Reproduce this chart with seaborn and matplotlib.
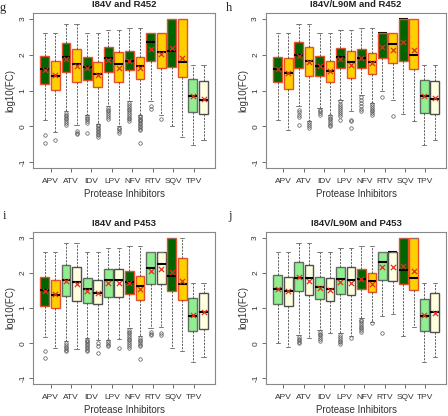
import numpy as np
import pandas as pd
import matplotlib
matplotlib.use("Agg")
import matplotlib.pyplot as plt
import seaborn as sns

drugs = ["APV", "ATV", "IDV", "LPV", "NFV", "RTV", "SQV", "TPV"]
titles = ["I84V and R452", "I84V/L90M and R452", "I84V and P453", "I84V/L90M and P453"]
letters = ["g", "h", "i", "j"]

# 16 boxes per panel: for each drug, first box then second box
# colour code: D dark green, G gold, L light green, C cream
g_kind = ["D", "G"] * 7 + ["L", "C"]
g_q1 = [1.18, 1.02, 1.53, 1.23, 1.30, 1.09, 1.53, 1.25, 1.57, 1.32, 1.83, 1.63, 1.66, 1.37, 0.41, 0.34]
g_med = [1.60, 1.41, 1.93, 1.74, 1.66, 1.47, 1.91, 1.74, 1.83, 1.68, 2.37, 2.09, 2.12, 1.81, 0.86, 0.74]
g_q3 = [1.97, 1.83, 2.33, 2.16, 1.95, 1.80, 2.21, 2.09, 2.12, 1.95, 2.60, 2.60, 3.00, 3.00, 1.33, 1.27]
g_lo = [0.17, -0.14, 0.42, 0.05, 0.33, 0.08, 0.56, 0.02, 0.70, 0.33, 0.70, 0.33, 0.02, -0.28, -0.51, -0.37]
g_hi = [2.60, 2.60, 2.85, 2.85, 2.60, 2.60, 2.69, 2.69, 2.76, 2.76, 2.60, 2.60, 3.00, 3.00, 1.71, 1.71]
g_mean = [1.58, 1.43, 1.88, 1.70, 1.62, 1.43, 1.85, 1.63, 1.83, 1.62, 2.16, 2.03, 2.20, 1.90, 0.86, 0.78]
g_fliers = [[-0.23, -0.45], [-0.39],
            [0.38, 0.33, 0.28, 0.24, 0.20, 0.15, 0.10, 0.05], [-0.12, -0.17, -0.22],
            [0.28, 0.24, 0.20, 0.15, 0.10, -0.19], [0.04, 0.0, -0.04, -0.08, -0.12, -0.16, -0.20, -0.24, -0.28],
            [0.52, 0.47, 0.42, 0.37, 0.32, 0.27, 0.22], [-0.03, -0.08, -0.13, -0.17],
            [0.66, 0.60, 0.55, 0.50, 0.45, 0.40, 0.35, 0.30, 0.25, 0.20, 0.15],
            [0.30, 0.26, 0.22, 0.18, 0.14, 0.10, 0.06, 0.02, -0.02, -0.06, -0.10, -0.47],
            [0.56, 0.50], [0.21], [], [], [], []]

h_kind = ["D", "G"] * 7 + ["L", "C"]
h_q1 = [1.23, 1.06, 1.63, 1.41, 1.41, 1.23, 1.62, 1.34, 1.64, 1.47, 1.92, 1.77, 1.83, 1.61, 0.39, 0.34]
h_med = [1.60, 1.49, 1.99, 1.83, 1.70, 1.55, 1.93, 1.80, 1.91, 1.80, 2.60, 2.29, 3.00, 2.00, 0.84, 0.76]
h_q3 = [1.95, 1.90, 2.35, 2.23, 1.98, 1.83, 2.20, 2.12, 2.16, 2.05, 2.60, 2.60, 3.00, 3.00, 1.31, 1.28]
h_lo = [0.17, -0.09, 0.56, 0.14, 0.51, 0.33, 0.75, 0.42, 0.88, 0.65, 1.00, 0.75, 0.34, 0.14, -0.51, -0.37]
h_hi = [2.60, 2.60, 2.85, 2.85, 2.60, 2.60, 2.69, 2.69, 2.76, 2.76, 2.60, 2.60, 3.00, 3.00, 1.71, 1.71]
h_mean = [1.60, 1.49, 1.97, 1.81, 1.70, 1.55, 1.87, 1.72, 1.90, 1.77, 2.22, 2.14, 2.37, 2.13, 0.86, 0.80]
h_fliers = [[], [],
            [0.47, 0.40, 0.33, 0.27, 0.05], [0.12, 0.07, 0.02, -0.03],
            [0.47, 0.42, 0.37, 0.31], [0.30, 0.25, 0.20, 0.15, 0.10, 0.05, 0.02],
            [0.70, 0.64, 0.58, 0.52, 0.46, 0.40, 0.34, 0.28, 0.19], [0.19, 0.14, -0.03],
            [0.82, 0.74, 0.66, 0.58, 0.50, 0.42], [0.62, 0.57, 0.52, 0.47, 0.42, 0.37, 0.33],
            [0.82], [0.28], [], [], [], []]

i_kind = ["D", "G", "L", "C", "L", "C", "L", "C", "D", "G", "L", "C", "D", "G", "L", "C"]
i_q1 = [1.07, 1.00, 1.33, 1.21, 1.14, 1.10, 1.32, 1.32, 1.40, 1.24, 1.69, 1.69, 1.49, 1.24, 0.35, 0.40]
i_med = [1.51, 1.38, 1.81, 1.73, 1.53, 1.44, 1.80, 1.80, 1.75, 1.63, 2.14, 2.26, 1.91, 1.67, 0.76, 0.90]
i_q3 = [1.88, 1.80, 2.23, 2.17, 1.84, 1.80, 2.12, 2.11, 2.05, 1.91, 2.60, 2.60, 3.00, 2.42, 1.28, 1.44]
i_lo = [0.17, -0.14, 0.05, -0.17, 0.14, 0.09, 0.09, 0.11, 0.42, 0.19, 0.42, 0.45, -0.14, -0.23, -0.54, -0.39]
i_hi = [2.60, 2.60, 2.86, 2.86, 2.60, 2.60, 2.70, 2.70, 2.77, 2.77, 2.60, 2.60, 3.00, 3.00, 1.72, 1.72]
i_mean = [1.49, 1.40, 1.78, 1.68, 1.48, 1.43, 1.70, 1.70, 1.72, 1.55, 2.05, 2.10, 2.02, 1.77, 0.79, 0.88]
i_fliers = [[-0.21, -0.42], [],
            [0.0, -0.05, -0.10, -0.15, -0.20, -0.23], [],
            [0.10, 0.06, 0.02, -0.02, -0.06, -0.10, -0.14, -0.18, -0.22], [0.0, -0.09, -0.28],
            [0.05, 0.0, -0.05, -0.09], [-0.14],
            [0.38, 0.33, 0.28, 0.23, 0.18, 0.13, 0.08, 0.03, -0.02, -0.08, -0.14],
            [0.15, 0.10, 0.05, 0.0, -0.05, -0.09, -0.45],
            [0.32, 0.27, 0.22], [0.30, 0.24], [], [], [], []]

j_kind = ["L", "C"] * 4 + ["D", "G", "L", "C", "D", "G", "L", "C"]
j_q1 = [1.12, 1.05, 1.49, 1.36, 1.26, 1.21, 1.41, 1.37, 1.53, 1.46, 1.81, 1.77, 1.67, 1.52, 0.35, 0.32]
j_med = [1.53, 1.47, 1.86, 1.84, 1.60, 1.55, 1.83, 1.81, 1.83, 1.76, 2.30, 2.60, 2.09, 1.86, 0.76, 0.88]
j_q3 = [1.93, 1.87, 2.30, 2.22, 1.88, 1.84, 2.16, 2.17, 2.11, 2.00, 2.60, 2.60, 3.00, 3.00, 1.27, 1.44]
j_lo = [0.0, -0.10, 0.23, 0.14, 0.37, 0.30, 0.28, 0.19, 0.72, 0.60, 0.77, 0.83, 0.19, 0.47, -0.54, -0.39]
j_hi = [2.60, 2.60, 2.86, 2.86, 2.60, 2.60, 2.70, 2.70, 2.77, 2.77, 2.60, 2.60, 3.00, 3.00, 1.72, 1.72]
j_mean = [1.54, 1.47, 1.87, 1.78, 1.57, 1.52, 1.74, 1.71, 1.82, 1.69, 2.16, 2.18, 2.20, 2.04, 0.80, 0.87]
j_fliers = [[], [],
            [0.18, 0.13, 0.08, 0.03, 0.0], [],
            [0.32, 0.27, 0.22, 0.17, 0.12, 0.07], [],
            [0.22, 0.17, 0.12, 0.07, 0.02, -0.02], [0.14],
            [0.67, 0.62, 0.57, 0.52, 0.47, 0.42, 0.37, 0.33], [0.56],
            [0.30], [], [], [], [], []]

panels = [
    (g_kind, g_q1, g_med, g_q3, g_lo, g_hi, g_mean, g_fliers),
    (h_kind, h_q1, h_med, h_q3, h_lo, h_hi, h_mean, h_fliers),
    (i_kind, i_q1, i_med, i_q3, i_lo, i_hi, i_mean, i_fliers),
    (j_kind, j_q1, j_med, j_q3, j_lo, j_hi, j_mean, j_fliers),
]

fills = {"D": "#006400", "G": "#FFD000", "L": "#90EE90", "C": "#FFFFE0"}
edges = {"D": "#E8502A", "G": "#E8502A", "L": "#607060", "C": "#505050"}

sns.set_style("white")
plt.rcParams["font.family"] = ["Liberation Sans", "DejaVu Sans"]
txt = "#333333"

fig = plt.figure(figsize=(4.48, 4.16), dpi=100)
rects = [[0.074, 0.596, 0.406, 0.373], [0.594, 0.596, 0.402, 0.373],
         [0.074, 0.077, 0.406, 0.366], [0.594, 0.077, 0.402, 0.366]]
letter_pos = [(0.0, 0.995), (0.505, 0.995), (0.005, 0.495), (0.51, 0.495)]

# boxes sit at 0..15, drug ticks slightly narrower than the pairs (as in the source)
pos = list(range(16))
tick_pos = [0.54 + 1.937 * k for k in range(len(drugs))]

for p, (kind, q1, med, q3, lo, hi, mean, fliers) in enumerate(panels):
    ax = fig.add_axes(rects[p])
    stats = [dict(q1=q1[b], med=med[b], q3=q3[b], whislo=lo[b], whishi=hi[b], fliers=fliers[b])
             for b in range(len(q1))]
    art = ax.bxp(stats, positions=pos, widths=0.84, patch_artist=True, showfliers=True,
                 boxprops=dict(linewidth=1.0),
                 medianprops=dict(color="black", linewidth=1.5),
                 whiskerprops=dict(color="#444444", linewidth=0.6, linestyle=(0, (2.5, 1.5))),
                 capprops=dict(color="#777777", linewidth=0.7),
                 capwidths=0.4,
                 flierprops=dict(marker="o", markersize=2.5, markerfacecolor="none",
                                 markeredgecolor="#555555", markeredgewidth=0.5))
    for b, box in enumerate(art["boxes"]):
        box.set_facecolor(fills[kind[b]])
        box.set_edgecolor(edges[kind[b]])
        if med[b] >= q3[b]:
            # median on the box top: hidden under the box border in the source
            art["medians"][b].set_zorder(1.5)
    mdf = pd.DataFrame({"pos": pos, "mean": mean})
    sns.scatterplot(data=mdf, x="pos", y="mean", marker="x", color="#E03020", s=14,
                    linewidth=0.9, ax=ax, zorder=5)
    ax.set_xlim(-1.1, 16.09)
    ax.set_ylim(-1.16, 3.17)
    ax.set_xticks(tick_pos)
    ax.set_xticklabels(drugs)
    ax.set_yticks([-1, 0, 1, 2, 3])
    ax.set_yticklabels(["-1", "0", "1", "2", "3"], rotation=90, va="center")
    ax.tick_params(axis="both", which="both", direction="out", length=3, width=0.6,
                   color="#555555", labelsize=6, labelcolor=txt, pad=2,
                   bottom=True, left=True)
    ax.tick_params(axis="x", pad=4)
    for s in ax.spines.values():
        s.set_color("#888888")
        s.set_linewidth(0.8)
    ax.set_xlabel("Protease Inhibitors", fontsize=7, color=txt, labelpad=3)
    ax.set_ylabel("log10(FC)", fontsize=7, color=txt, labelpad=3)
    ax.set_title(titles[p], fontsize=6.8, fontweight="bold", color="#222222", pad=4)
    fig.text(letter_pos[p][0], letter_pos[p][1], letters[p], fontsize=9,
             family=["Liberation Serif", "DejaVu Serif"], va="top", ha="left")

fig.savefig("out.png", dpi=100)
